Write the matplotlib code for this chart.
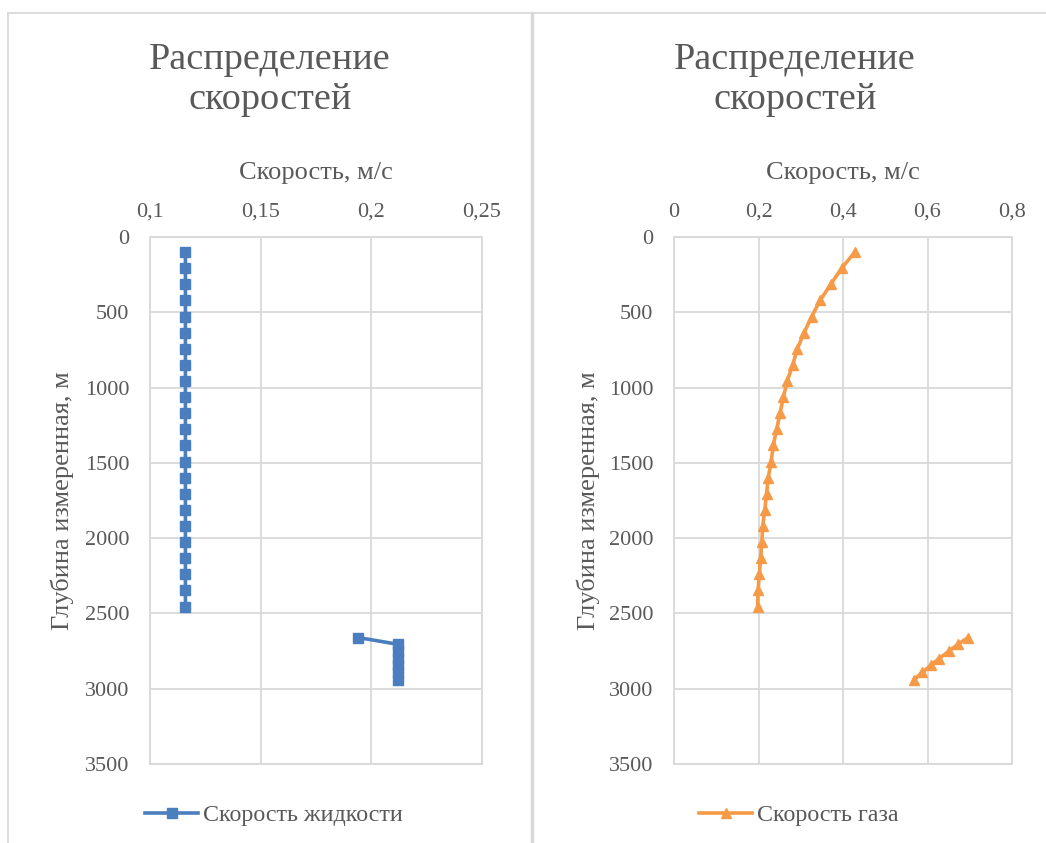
import numpy as np
import matplotlib.pyplot as plt
from matplotlib.lines import Line2D
from matplotlib.ticker import FuncFormatter

plt.rcParams['font.family'] = ['Liberation Serif', 'DejaVu Serif']

# глубина по стволу, м (пропуск между участками — nan)
depth = [100, 207, 314, 421, 528, 635, 742, 849, 956, 1063, 1170, 1277,
         1384, 1491, 1598, 1705, 1812, 1919, 2026, 2133, 2240, 2347, 2454,
         np.nan,
         2660, 2705, 2750, 2800, 2845, 2890, 2940]

v_liquid = [0.116] * 23 + [np.nan] + [0.194, 0.212, 0.212, 0.212, 0.212, 0.212, 0.212]

v_gas = [0.428, 0.397, 0.371, 0.346, 0.326, 0.308, 0.292, 0.281, 0.268, 0.259,
         0.251, 0.243, 0.235, 0.230, 0.223, 0.219, 0.215, 0.210, 0.208, 0.205,
         0.202, 0.199, 0.198,
         np.nan,
         0.696, 0.672, 0.651, 0.627, 0.608, 0.588, 0.569]

x_ticks_liq = [0.1, 0.15, 0.2, 0.25]
x_ticks_gas = [0, 0.2, 0.4, 0.6, 0.8]
y_ticks = [0, 500, 1000, 1500, 2000, 2500, 3000, 3500]

TEXT = '#595959'
GRID = '#D9D9D9'
BLUE = '#4A7EBF'
ORANGE = '#F79A48'

W, H = 1046, 843
fig = plt.figure(figsize=(W / 100, H / 100), dpi=100)


def comma(v, pos):
    s = f'{v:g}'
    return s.replace('.', ',')


def setup(ax, xticks, xlim):
    ax.set_xlim(*xlim)
    ax.set_ylim(3500, 0)
    ax.set_xticks(xticks)
    ax.set_yticks(y_ticks)
    ax.xaxis.set_major_formatter(FuncFormatter(comma))
    ax.xaxis.tick_top()
    ax.xaxis.set_label_position('top')
    ax.grid(True, color=GRID, linewidth=1.3)
    ax.set_axisbelow(True)
    for s in ax.spines.values():
        s.set_color(GRID)
        s.set_linewidth(1.3)
    ax.tick_params(length=0, labelsize=16, colors=TEXT)
    ax.tick_params(axis='x', pad=11)
    ax.tick_params(axis='y', pad=15)
    ax.set_xlabel('Скорость, м/с', fontsize=19, color=TEXT)
    ax.set_ylabel('Глубина измеренная, м', fontsize=19, color=TEXT)
    ax.xaxis.label.set_va('center')
    ax.yaxis.label.set_va('center')


# левая диаграмма — жидкость
ax1 = fig.add_axes([150 / W, 1 - 764 / H, 332 / W, 527 / H])
setup(ax1, x_ticks_liq, (0.1, 0.25))
ax1.plot(v_liquid, depth, color=BLUE, linewidth=2.6, marker='s',
         markersize=6.5, label='Скорость жидкости')
ax1.xaxis.set_label_coords(0.5, (764 - 173) / 527)
ax1.yaxis.set_label_coords((62 - 150) / 332, 0.5)

# правая диаграмма — газ
ax2 = fig.add_axes([674 / W, 1 - 764 / H, 338 / W, 527 / H])
setup(ax2, x_ticks_gas, (0, 0.8))
ax2.plot(v_gas, depth, color=ORANGE, linewidth=2.6, marker='^',
         markersize=7, label='Скорость газа')
ax2.xaxis.set_label_coords(0.5, (764 - 173) / 527)
ax2.yaxis.set_label_coords((588 - 674) / 338, 0.5)

for ax, cx in ((ax1, 270), (ax2, 795)):
    fig.text(cx / W, 1 - 80 / H, 'Распределение\nскоростей', ha='center',
             va='center', fontsize=27.5, color=TEXT, linespacing=1.22)

for ax, cx in ((ax1, 274), (ax2, 799)):
    ax.legend(loc='center', bbox_to_anchor=(cx / W, 1 - 815 / H),
              bbox_transform=fig.transFigure, frameon=False, fontsize=17.3,
              handlelength=2.2, handletextpad=0.2, labelcolor=TEXT)

# рамки областей диаграмм
fig.add_artist(Line2D([8 / W, 1], [1 - 13 / H, 1 - 13 / H], color=GRID,
                      linewidth=1.3, transform=fig.transFigure))
fig.add_artist(Line2D([8 / W, 8 / W], [0, 1 - 13 / H], color=GRID,
                      linewidth=1.3, transform=fig.transFigure))
fig.add_artist(Line2D([532 / W, 532 / W], [0, 1 - 13 / H], color=GRID,
                      linewidth=2.5, transform=fig.transFigure))

fig.savefig('out.png', dpi=100)
